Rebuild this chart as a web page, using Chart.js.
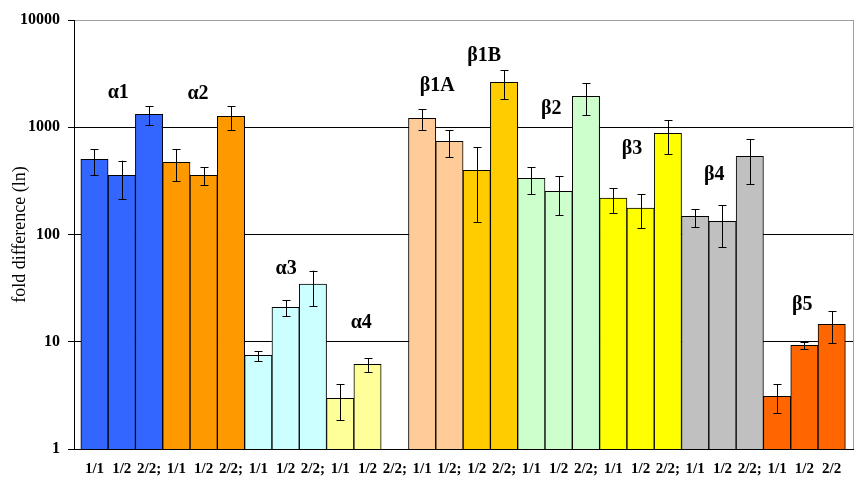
<!DOCTYPE html>
<html>
<head>
<meta charset="utf-8">
<script src="https://cdn.jsdelivr.net/npm/chart.js@4/dist/chart.umd.min.js"></script>
<style>
  html, body { margin: 0; padding: 0; background: #fff; }
  #wrap { width: 858px; height: 484px; }
</style>
</head>
<body>
<div id="wrap"><canvas id="c" width="858" height="484"></canvas></div>
<script>
// ---------------- DATA ----------------
const tickLabels = ['1/1','1/2','2/2;','1/1','1/2','2/2;','1/1','1/2','2/2;','1/1','1/2','2/2;',
                    '1/1','1/2;','1/2','2/2;','1/1','1/2','2/2;','1/1','1/2','2/2;','1/1','1/2','2/2;','1/1','1/2','2/2'];
const groupNames = ['α1','α2','α3','α4','β1A','β1B','β2','β3','β4','β5'];
const barGroup   = [0,0,0, 1,1,1, 2,2,2, 3,3,3, 4,4, 5,5, 6,6,6, 7,7,7, 8,8,8, 9,9,9];
const foldValues = [503, 357, 1321, 471, 357, 1265, 7.48, 20.9, 34.5, 2.97, 6.16, null,
                    1211, 740, 397, 2625, 334, 253, 1944, 218, 176, 879, 148, 133, 536, 3.10, 9.27, 14.5];
const errHigh    = [622, 488, 1578, 622, 423, 1578, 8.2, 24.3, 46, 4.01, 7.01, null,
                    1469, 943, 650, 3396, 423, 349, 2570, 270, 237, 1161, 172, 187, 773, 4.01, 9.88, 19.2];
const errLow     = [357, 213, 1043, 313, 288, 937, 6.57, 17.3, 21.4, 1.85, 5.19, null,
                    943, 525, 130, 1823, 237, 151, 1292, 158, 114, 560, 117, 76, 294, 2.15, 8.51, 9.68];
const yTickValues = [1, 10, 100, 1000, 10000];

// ---------------- STYLE / LAYOUT ----------------
const groupColors = ['#3366FF','#FF9900','#CCFFFF','#FFFF99','#FFCC99','#FFCC00','#CCFFCC','#FFFF00','#C0C0C0','#FF6600'];
// label anchors in data coordinates [x index, y value]
const groupLabelAnchors = [[0.87,2085],[3.79,2043],[7.02,47.7],[9.77,14.9],[12.55,2425],
                           [14.27,4616],[16.73,1480],[19.69,627],[22.70,359],[25.92,22.3]];
const SERIF = "'Liberation Serif','Times New Roman',serif";

const barData = foldValues.map((v, i) => ({x: i, y: v}));
const barColors = barGroup.map(g => groupColors[g]);

const extrasPlugin = {
  id: 'extras',
  afterDatasetsDraw(chart) {
    const ctx = chart.ctx, xs = chart.scales.x, ys = chart.scales.y;
    ctx.save();
    // error bars
    ctx.strokeStyle = '#000';
    ctx.lineWidth = 1;
    for (let i = 0; i < foldValues.length; i++) {
      if (errHigh[i] == null || errLow[i] == null) continue;
      const x = Math.round(xs.getPixelForValue(i)) + 0.5;
      const y1 = ys.getPixelForValue(errHigh[i]);
      const y2 = ys.getPixelForValue(errLow[i]);
      ctx.beginPath();
      ctx.moveTo(x, y1); ctx.lineTo(x, y2);
      ctx.moveTo(x - 4, Math.round(y1) + 0.5); ctx.lineTo(x + 4, Math.round(y1) + 0.5);
      ctx.moveTo(x - 4, Math.round(y2) + 0.5); ctx.lineTo(x + 4, Math.round(y2) + 0.5);
      ctx.stroke();
    }
    // right plot border
    const a = chart.chartArea;
    ctx.strokeStyle = '#a0a0a0';
    ctx.beginPath();
    ctx.moveTo(Math.round(a.right) + 0.5, a.top);
    ctx.lineTo(Math.round(a.right) + 0.5, a.bottom);
    ctx.stroke();
    // group labels
    ctx.fillStyle = '#000';
    ctx.font = 'bold 20px ' + SERIF;
    ctx.textAlign = 'center';
    ctx.textBaseline = 'middle';
    groupNames.forEach((name, g) => {
      const [gx, gy] = groupLabelAnchors[g];
      ctx.fillText(name, xs.getPixelForValue(gx), ys.getPixelForValue(gy));
    });
    ctx.restore();
  }
};

new Chart(document.getElementById('c'), {
  type: 'bar',
  data: {
    datasets: [{
      data: barData,
      backgroundColor: barColors,
      borderColor: '#000',
      borderWidth: 1,
      barPercentage: 1,
      categoryPercentage: 1
    }]
  },
  options: {
    responsive: false,
    animation: false,
    events: [],
    layout: { padding: { left: 0, top: 20, right: 5, bottom: 0 } },
    plugins: { legend: { display: false }, tooltip: { enabled: false }, title: { display: false } },
    scales: {
      x: {
        type: 'linear',
        min: -0.75,
        max: 27.78,
        offset: false,
        afterBuildTicks: s => { s.ticks = tickLabels.map((_, i) => ({ value: i })); },
        afterFit: s => { s.height = 35; },
        grid: { display: false, drawTicks: false },
        border: { display: true, color: '#000', width: 1 },
        ticks: {
          autoSkip: false, maxRotation: 0, minRotation: 0, padding: 11,
          color: '#000',
          font: { family: SERIF, size: 15, weight: 'bold' },
          callback: v => tickLabels[v] ?? ''
        }
      },
      y: {
        type: 'logarithmic',
        min: 1,
        max: 10000,
        afterBuildTicks: s => { s.ticks = yTickValues.map(v => ({ value: v })); },
        afterFit: s => { s.width = 74; },
        grid: {
          color: c => (c.tick && c.tick.value === 10000) ? '#a0a0a0' : '#000',
          tickColor: '#000',
          tickLength: 6,
          lineWidth: 1
        },
        border: { display: true, color: '#000', width: 1 },
        ticks: {
          padding: 8,
          color: '#000',
          font: { family: SERIF, size: 16, weight: 'bold' },
          callback: v => String(v)
        },
        title: {
          display: true,
          text: 'fold difference (ln)',
          color: '#000',
          font: { family: SERIF, size: 18 },
          padding: { top: 9, bottom: 0 }
        }
      }
    }
  },
  plugins: [extrasPlugin]
});
</script>
</body>
</html>
